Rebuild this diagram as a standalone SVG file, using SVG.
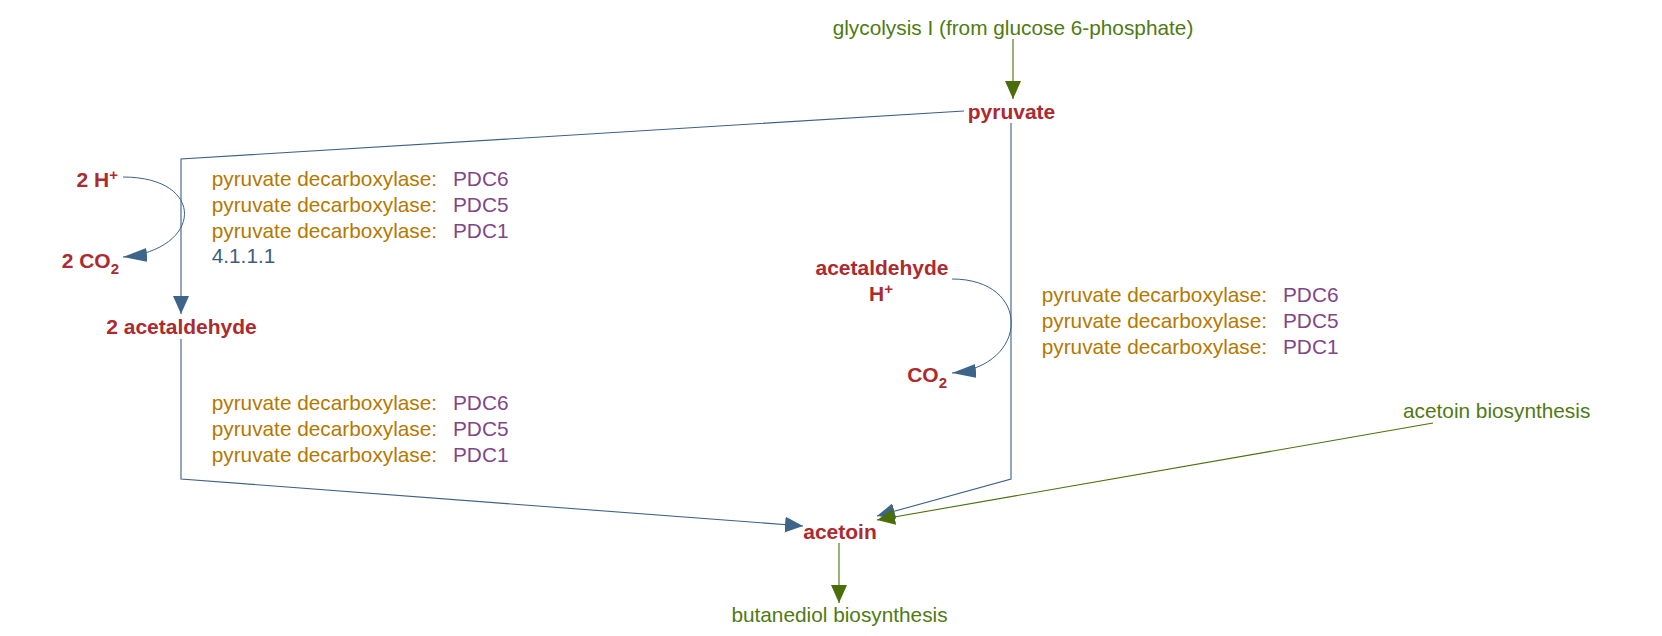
<svg xmlns="http://www.w3.org/2000/svg" width="1662" height="636" viewBox="0 0 1662 636">
<style>
text{font-family:"Liberation Sans",Arial,Helvetica,sans-serif;font-size:20.8px}
.met{font-weight:bold;font-size:21px;fill:#ad2a2f}
.path{fill:#4f7a12}
.enz{fill:#b57800}
.gene{fill:#7f4689}
.ec{fill:#3c5e82}
.sup{font-size:15px}
.cb{fill:none;stroke:#3d6187;stroke-width:1.1}
.cg{fill:none;stroke:#4c700c;stroke-width:1.1}
.mid{text-anchor:middle}
.end{text-anchor:end}
</style>
<defs>
<marker id="ab" markerUnits="userSpaceOnUse" markerWidth="20" markerHeight="18" refX="18" refY="8" orient="auto"><path d="M0,0 L18,8 L0,16 z" fill="#3f6489"/></marker>
<marker id="ag" markerUnits="userSpaceOnUse" markerWidth="20" markerHeight="18" refX="18" refY="8" orient="auto"><path d="M0,0 L18,8 L0,16 z" fill="#4c6e0a"/></marker>
<marker id="ac" markerUnits="userSpaceOnUse" markerWidth="26" markerHeight="16" refX="24" refY="7" orient="auto"><path d="M0,0 L24,7 L0,14 z" fill="#3f6489"/></marker>
</defs>
<g id="connectors">
<path class="cg" d="M1013,39 L1013,99" marker-end="url(#ag)"/>
<path class="cb" d="M964,111 L181,159 L181,314" marker-end="url(#ab)"/>
<path class="cb" d="M1011,123 L1011,479 L877,516" marker-end="url(#ab)"/>
<path class="cb" d="M181,339 L181,479 L803,526" marker-end="url(#ab)"/>
<path class="cg" d="M1433,423 L877,520" marker-end="url(#ag)"/>
<path class="cg" d="M839,543 L839,603" marker-end="url(#ag)"/>
<path class="cb" style="stroke-width:1" d="M123,177 C207,177 203,250 123,257" marker-end="url(#ac)"/>
<path class="cb" style="stroke-width:1" d="M952,279 C1032,279 1030,366 952,373" marker-end="url(#ac)"/>
</g>
<g id="glycolysis"><text class="path mid" x="1013" y="35">glycolysis I (from glucose 6-phosphate)</text></g>
<g id="pyruvate"><text class="met mid" x="1011.5" y="119">pyruvate</text></g>
<g id="h2"><text class="met end" x="118" y="187">2 H<tspan class="sup" dy="-7">+</tspan></text></g>
<g id="co2a"><text class="met end" x="119" y="268">2 CO<tspan class="sup" dy="6">2</tspan></text></g>
<g id="acetaldehyde2"><text class="met mid" x="181.5" y="334">2 acetaldehyde</text></g>
<g id="acetaldehyde"><text class="met mid" x="882" y="275">acetaldehyde</text><text class="met mid" x="881" y="301">H<tspan class="sup" dy="-7">+</tspan></text></g>
<g id="co2b"><text class="met end" x="947" y="382">CO<tspan class="sup" dy="6">2</tspan></text></g>
<g id="acetoin"><text class="met mid" x="840" y="539">acetoin</text></g>
<g id="butanediol"><text class="path mid" x="839.5" y="622">butanediol biosynthesis</text></g>
<g id="acetoinbio"><text class="path" x="1403" y="418">acetoin biosynthesis</text></g>
<g id="enz1">
<text x="211.7" y="186"><tspan class="enz">pyruvate decarboxylase:</tspan><tspan class="gene" x="453">PDC6</tspan></text>
<text x="211.7" y="212"><tspan class="enz">pyruvate decarboxylase:</tspan><tspan class="gene" x="453">PDC5</tspan></text>
<text x="211.7" y="237.5"><tspan class="enz">pyruvate decarboxylase:</tspan><tspan class="gene" x="453">PDC1</tspan></text>
<text class="ec" x="211.7" y="263">4.1.1.1</text>
</g>
<g id="enz2">
<text x="211.7" y="410"><tspan class="enz">pyruvate decarboxylase:</tspan><tspan class="gene" x="453">PDC6</tspan></text>
<text x="211.7" y="436"><tspan class="enz">pyruvate decarboxylase:</tspan><tspan class="gene" x="453">PDC5</tspan></text>
<text x="211.7" y="462"><tspan class="enz">pyruvate decarboxylase:</tspan><tspan class="gene" x="453">PDC1</tspan></text>
</g>
<g id="enz3">
<text x="1041.7" y="302"><tspan class="enz">pyruvate decarboxylase:</tspan><tspan class="gene" x="1283">PDC6</tspan></text>
<text x="1041.7" y="328"><tspan class="enz">pyruvate decarboxylase:</tspan><tspan class="gene" x="1283">PDC5</tspan></text>
<text x="1041.7" y="353.5"><tspan class="enz">pyruvate decarboxylase:</tspan><tspan class="gene" x="1283">PDC1</tspan></text>
</g>
</svg>
